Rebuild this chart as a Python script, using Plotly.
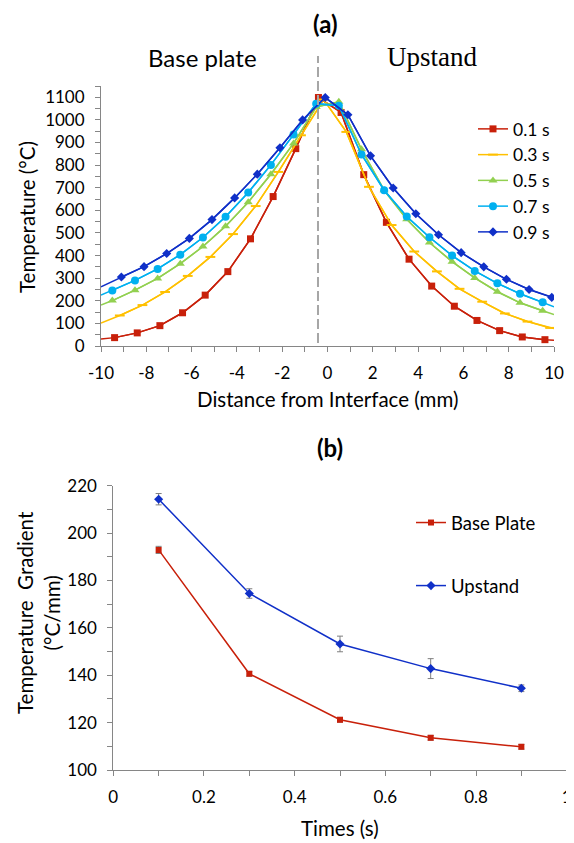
import plotly.graph_objects as go

# ---------------- data: panel (a) ----------------
series_names = ["0.1 s", "0.3 s", "0.5 s", "0.7 s", "0.9 s"]

x_01 = [-9.4, -8.4, -7.4, -6.4, -5.4, -4.4, -3.4, -2.4, -1.4, -0.4,
        0.6, 1.6, 2.6, 3.6, 4.6, 5.6, 6.6, 7.6, 8.6, 9.6]
t_01 = [37, 58, 90, 147, 225, 329, 474, 661, 873, 1099,
        1033, 758, 547, 384, 265, 176, 113, 68, 40, 28]
edge_01 = [31, 25]

x_03 = [-9.17, -8.17, -7.17, -6.17, -5.17, -4.17, -3.17, -2.17, -1.17, -0.17,
        0.83, 1.83, 2.83, 3.83, 4.83, 5.83, 6.83, 7.83, 8.83, 9.83]
t_03 = [135, 181, 239, 310, 394, 495, 619, 770, 932, 1090,
        947, 704, 535, 418, 330, 253, 196, 144, 108, 80]
edge_03 = [101, 77]

x_05 = [-9.5, -8.5, -7.5, -6.5, -5.5, -4.5, -3.5, -2.5, -1.5, -0.5,
        0.5, 1.5, 2.5, 3.5, 4.5, 5.5, 6.5, 7.5, 8.5, 9.5]
t_05 = [201, 247, 299, 364, 440, 530, 636, 760, 896, 1057,
        1080, 870, 689, 561, 458, 373, 301, 240, 191, 156]
edge_05 = [181, 139]

x_07 = [-9.5, -8.5, -7.5, -6.5, -5.5, -4.5, -3.5, -2.5, -1.5, -0.5,
        0.5, 1.5, 2.5, 3.5, 4.5, 5.5, 6.5, 7.5, 8.5, 9.5]
t_07 = [246, 290, 341, 404, 480, 572, 679, 801, 935, 1072,
        1063, 847, 689, 573, 481, 400, 332, 277, 231, 193]
edge_07 = [225, 173]

x_09 = [-9.1, -8.1, -7.1, -6.1, -5.1, -4.1, -3.1, -2.1, -1.1, -0.1,
        0.9, 1.9, 2.9, 3.9, 4.9, 5.9, 6.9, 7.9, 8.9, 9.9]
t_09 = [305, 351, 409, 476, 559, 655, 760, 877, 1000, 1099,
        1023, 841, 699, 585, 492, 413, 350, 295, 250, 215]
edge_09 = [262, 213]

x_ticklabels_a = ["-10", "-8", "-6", "-4", "-2", "0", "2", "4", "6", "8", "10"]
x_range_a = [-10, 10]
interface_x = -0.42

# ---------------- data: panel (b) ----------------
times = [0.1, 0.3, 0.5, 0.7, 0.9]
grad_base = [192.9, 140.6, 121.2, 113.6, 109.8]
grad_base_err = [1.5, 1.0, 1.0, 1.0, 1.0]
grad_up = [214.3, 174.5, 153.2, 142.8, 134.5]
grad_up_err = [2.4, 2.0, 3.3, 4.2, 1.4]

# ---------------- styling ----------------
# the page body has an 8px margin, so the figure is drawn 8px in from the
# window corner; page coordinates below are converted accordingly
OFF = 8
W, H = 574 - OFF, 843 - OFF
FONT = "Lato"
AX = "#868686"
RED = "#C8200A"
YEL = "#FFC000"
GRN = "#92D050"
LBL = "#00B0F0"
BLU = "#1030C8"
TITLE_SIZE = 20.5


def px(x):
    return (x - OFF) / W


def py(y):
    return 1 - (y - OFF) / H


fig = go.Figure()

series = [
    (series_names[0], x_01, t_01, edge_01, RED, dict(symbol="square", size=7, color=RED)),
    (series_names[1], x_03, t_03, edge_03, YEL, dict(symbol="line-ew", size=7, color=YEL,
                                                    line=dict(color=YEL, width=2))),
    (series_names[2], x_05, t_05, edge_05, GRN, dict(symbol="triangle-up", size=8, color=GRN)),
    (series_names[3], x_07, t_07, edge_07, LBL, dict(symbol="circle", size=8, color=LBL)),
    (series_names[4], x_09, t_09, edge_09, BLU, dict(symbol="diamond", size=7, color=BLU)),
]

for name, xs, ys, edge, col, mk in series:
    # line running to the axis edges
    fig.add_trace(go.Scatter(
        x=[x_range_a[0]] + xs + [x_range_a[1]], y=[edge[0]] + ys + [edge[1]],
        mode="lines", line=dict(color=col, width=1.5), showlegend=False,
        hoverinfo="skip", xaxis="x", yaxis="y"))
    fig.add_trace(go.Scatter(
        x=xs, y=ys, name=name, mode="lines+markers",
        line=dict(color=col, width=1.5), marker=mk,
        xaxis="x", yaxis="y", legend="legend"))

fig.add_trace(go.Scatter(
    x=times, y=grad_base, name="Base Plate", mode="lines+markers",
    line=dict(color=RED, width=1.5), marker=dict(symbol="square", size=6, color=RED),
    error_y=dict(type="data", array=grad_base_err, color="#7F7F7F", thickness=1, width=3),
    xaxis="x2", yaxis="y2", legend="legend2", legendgroup="base"))
fig.add_trace(go.Scatter(
    x=times, y=grad_up, name="Upstand", mode="lines+markers",
    line=dict(color=BLU, width=1.5), marker=dict(symbol="diamond", size=7, color=BLU),
    error_y=dict(type="data", array=grad_up_err, color="#7F7F7F", thickness=1, width=3),
    xaxis="x2", yaxis="y2", legend="legend2", legendgroup="up"))

axis_common = dict(
    showline=True, linecolor=AX, linewidth=1, showgrid=False, zeroline=False,
    ticks="outside", ticklen=5, tickcolor=AX, tickwidth=1, automargin=False,
    tickfont=dict(family=FONT, size=17, color="#000000"),
    ticklabelstandoff=7, ticklabeloverflow="allow",
)

fig.update_layout(
    template="none",
    width=W, height=H,
    margin=dict(l=0, r=0, t=0, b=0, pad=0),
    paper_bgcolor="white", plot_bgcolor="white",
    font=dict(family=FONT, color="#000000"),
    xaxis=dict(domain=[px(101), px(554)], range=x_range_a,
               tickmode="array", tickvals=[float(t) for t in x_ticklabels_a],
               ticktext=x_ticklabels_a,
               minor=dict(dtick=1, tick0=-10, ticks="outside", ticklen=5, tickcolor=AX),
               anchor="y", **axis_common),
    yaxis=dict(domain=[py(346), py(86)], range=[0, 1150], dtick=100,
               minor=dict(dtick=50, ticks="outside", ticklen=5, tickcolor=AX),
               anchor="x", **axis_common),
    xaxis2=dict(domain=[px(113.3), px(566.7)], range=[0, 1], dtick=0.2,
                minor=dict(dtick=0.1, ticks="outside", ticklen=5, tickcolor=AX),
                anchor="y2", **axis_common),
    yaxis2=dict(domain=[py(770), py(485.7)], range=[100, 220], dtick=20,
                minor=dict(dtick=10, ticks="outside", ticklen=5, tickcolor=AX),
                anchor="x2", **axis_common),
    legend=dict(x=px(473), y=py(111), xanchor="left", yanchor="top",
                font=dict(family=FONT, size=17.5), bgcolor="rgba(0,0,0,0)",
                tracegroupgap=0, itemwidth=30),
    legend2=dict(x=px(411), y=py(504), xanchor="left", yanchor="top",
                 font=dict(family=FONT, size=18.5), bgcolor="rgba(0,0,0,0)",
                 traceorder="grouped", tracegroupgap=36, itemwidth=30),
)

fig.add_shape(type="line", xref="x", yref="paper",
              x0=interface_x, x1=interface_x, y0=py(343), y1=py(56),
              line=dict(color="#A6A6A6", width=2, dash="10px,4px"))

ann = [
    dict(text="<b>(a)</b>", x=px(325), y=py(24), font=dict(size=24)),
    dict(text="<b>(b)</b>", x=px(330), y=py(447), font=dict(size=24)),
    dict(text="Base plate", x=px(202), y=py(57), font=dict(size=24)),
    dict(text="Upstand", x=px(432), y=py(57),
         font=dict(size=27, family="Liberation Serif")),
    dict(text="Temperature (°C)", x=px(27), y=py(217), textangle=-90,
         font=dict(size=TITLE_SIZE)),
    dict(text="Distance from Interface (mm)", x=px(327), y=py(399),
         font=dict(size=TITLE_SIZE)),
    dict(text="Temperature  Gradient<br>(°C/mm)", x=px(38), y=py(613), textangle=-90,
         font=dict(size=TITLE_SIZE)),
    dict(text="Times (s)", x=px(340), y=py(828), font=dict(size=TITLE_SIZE)),
]
for a in ann:
    f = dict(family=FONT, color="#000000")
    f.update(a.pop("font"))
    fig.add_annotation(xref="paper", yref="paper", showarrow=False, borderpad=0,
                       xanchor="center", yanchor="middle", font=f, **a)

fig.write_html("out.html")
